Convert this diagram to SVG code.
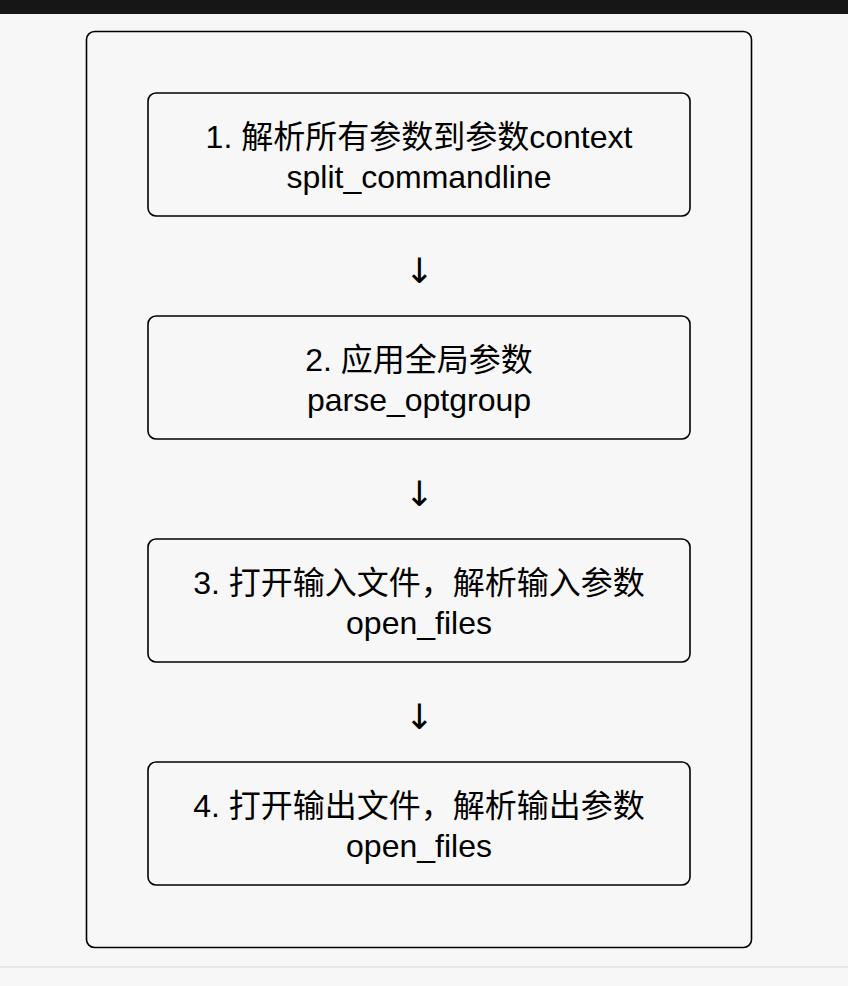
<svg xmlns="http://www.w3.org/2000/svg" width="848" height="986" viewBox="0 0 848 986">
<style>
.bg{fill:#f7f7f7}
.box{fill:#f7f7f7;stroke:#000;stroke-width:1.6}
.t{font-family:"Liberation Sans","Noto Sans CJK SC",Arial,sans-serif;font-size:32px;fill:#000;text-anchor:middle}
.arr{font-family:"DejaVu Sans",sans-serif;font-size:35px;fill:#000;text-anchor:middle}
</style>
<rect class="bg" x="0" y="0" width="848" height="986"/>
<rect x="0" y="0" width="848" height="14" fill="#161616"/>
<rect x="0" y="966" width="848" height="2" fill="#e6e6e6"/>
<g id="container">
<rect class="box" x="86.5" y="31.5" width="665" height="916" rx="8"/>
</g>
<g id="node1">
<rect class="box" x="148" y="93" width="542" height="123" rx="8"/>
<text class="t" x="419" y="148">1. 解析所有参数到参数context</text>
<text class="t" x="419" y="188">split_commandline</text>
</g>
<g id="node2">
<rect class="box" x="148" y="316" width="542" height="123" rx="8"/>
<text class="t" x="419" y="371">2. 应用全局参数</text>
<text class="t" x="419" y="411">parse_optgroup</text>
</g>
<g id="node3">
<rect class="box" x="148" y="539" width="542" height="123" rx="8"/>
<text class="t" x="419" y="594">3. 打开输入文件，解析输入参数</text>
<text class="t" x="419" y="634">open_files</text>
</g>
<g id="node4">
<rect class="box" x="148" y="762" width="542" height="123" rx="8"/>
<text class="t" x="419" y="817">4. 打开输出文件，解析输出参数</text>
<text class="t" x="419" y="857">open_files</text>
</g>
<g id="connectors">
<text class="arr" x="419.5" y="283">↓</text>
<text class="arr" x="419.5" y="506">↓</text>
<text class="arr" x="419.5" y="729">↓</text>
</g>
</svg>
